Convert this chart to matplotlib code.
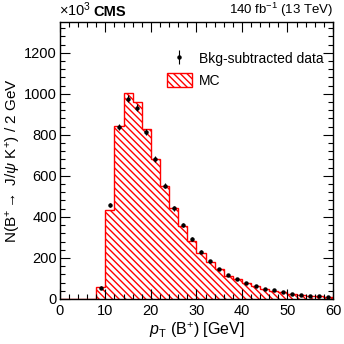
import numpy as np
import matplotlib
matplotlib.use("Agg")
import matplotlib.pyplot as plt
from matplotlib.patches import Patch
from matplotlib.ticker import MultipleLocator

bin_edges = np.arange(8, 62, 2)
data_vals = [55, 458, 839, 977, 932, 813, 681, 553, 442, 359, 291, 231, 184, 146,
             115, 98, 80, 63, 50, 42, 34, 26, 21, 16, 15, 10]
data_err = [6, 12, 15, 16, 16, 15, 14, 12, 11, 10, 9, 8, 7, 6, 5, 5, 4, 4, 4, 3, 3, 3, 3, 2, 2, 2]
mc_vals = [60, 434, 845, 1003, 959, 829, 684, 553, 442, 358, 283, 223, 182, 144,
           114, 96, 78, 62, 50, 41, 33, 26, 20, 16, 14, 10]

plt.rcParams['font.family'] = ['Liberation Sans', 'DejaVu Sans']
plt.rcParams['mathtext.fontset'] = 'custom'
plt.rcParams['mathtext.it'] = 'Liberation Sans:italic'
plt.rcParams['mathtext.rm'] = 'Liberation Sans'
plt.rcParams['hatch.linewidth'] = 1.0
plt.rcParams['hatch.color'] = 'red'

HATCH = '\\' * 5

fig = plt.figure(figsize=(3.44, 3.44), dpi=100)
ax = fig.add_axes([0.174, 0.131, 0.794, 0.805])

# MC histogram
ax.stairs(mc_vals, bin_edges, fill=True, facecolor='white', edgecolor='red',
          hatch=HATCH, linewidth=0)
ax.stairs(mc_vals, bin_edges, fill=False, edgecolor='red', linewidth=1.0)
ax.plot([0, 8], [0, 0], color='red', lw=1.0)

centers = (bin_edges[:-1] + bin_edges[1:]) / 2
ax.errorbar(centers, data_vals, yerr=data_err, fmt='o', color='black',
            markersize=2.2, elinewidth=0.8, capsize=0)

ax.set_xlim(0, 60)
ax.set_ylim(0, 1350)
ax.xaxis.set_major_locator(MultipleLocator(10))
ax.xaxis.set_minor_locator(MultipleLocator(2))
ax.yaxis.set_major_locator(MultipleLocator(200))
ax.yaxis.set_minor_locator(MultipleLocator(40))
ax.tick_params(which='both', direction='in', top=True, right=True, labelsize=10.5)
ax.tick_params(which='major', length=7, width=0.8)
ax.tick_params(which='minor', length=3.5, width=0.8)
ax.tick_params(axis='y', pad=2)
for s in ax.spines.values():
    s.set_linewidth(1.0)

ax.set_xlabel(r'$p_{\mathrm{T}}$ (B$^{+}$) [GeV]', fontsize=11.5, labelpad=2)
ax.set_ylabel(r'N(B$^{+}$$\rightarrow$ J/$\psi$ K$^{+}$) / 2 GeV', fontsize=11, labelpad=1)

fig.text(0.172, 0.945, r'$\times$10$^{3}$', fontsize=10.5, ha='left', va='bottom')
fig.text(0.272, 0.945, 'CMS', fontsize=10.5, fontweight='bold', ha='left', va='bottom')
fig.text(0.968, 0.945, r'140 fb$^{-1}$ (13 TeV)', fontsize=9.5, ha='right', va='bottom')

data_handle = ax.errorbar([], [], yerr=[], fmt='o', color='black', markersize=2.2,
                          elinewidth=0.8, capsize=0)
mc_handle = Patch(facecolor='white', edgecolor='red', hatch=HATCH, linewidth=1.0)
ax.legend([data_handle, mc_handle], ['Bkg-subtracted data', 'MC'],
          loc='upper right', bbox_to_anchor=(1.0, 0.93), frameon=False, fontsize=10,
          handlelength=1.8, handleheight=1.2, borderaxespad=0.3, labelspacing=0.5,
          handletextpad=0.5)

fig.savefig('out.png', dpi=100)
